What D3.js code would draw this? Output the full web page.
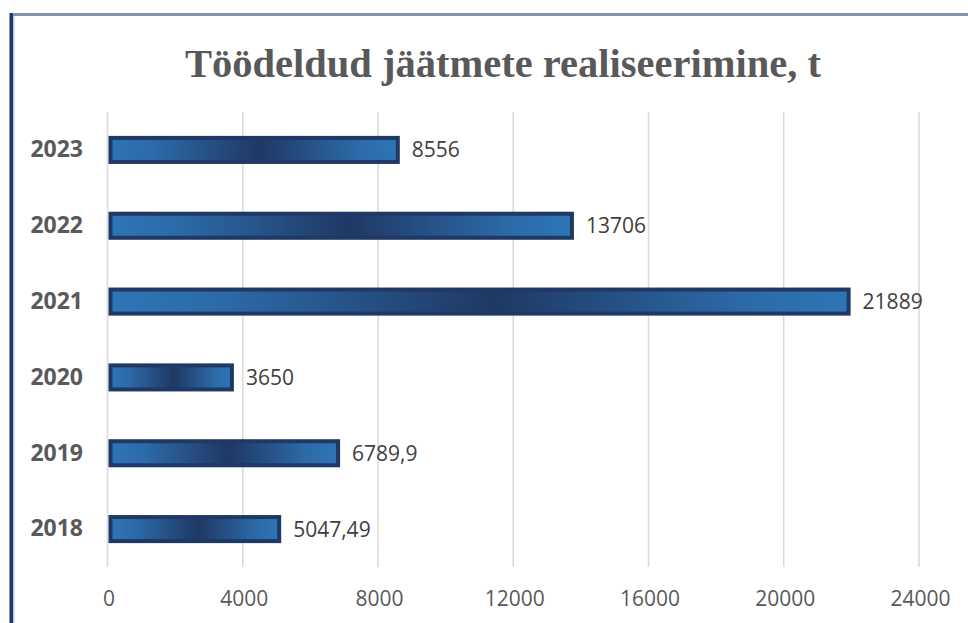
<!DOCTYPE html>
<html><head><meta charset="utf-8">
<script src="https://cdn.jsdelivr.net/npm/d3@7"></script>
<style>html,body{margin:0;padding:0;background:#fff;overflow:hidden}</style>
</head><body><svg id="c" width="968" height="623"></svg>
<script>
const categories = ["2023","2022","2021","2020","2019","2018"];
const values = [8556, 13706, 21889, 3650, 6789.9, 5047.49];
const tickValues = [0, 4000, 8000, 12000, 16000, 20000, 24000];
const title = "Töödeldud jäätmete realiseerimine, t";

const svg = d3.select("#c");
// frame
svg.append("rect").attr("x",13).attr("y",13).attr("width",955).attr("height",3).attr("fill","#8497b0");
svg.append("rect").attr("x",9).attr("y",13).attr("width",1).attr("height",610).attr("fill","#8497b0");
svg.append("rect").attr("x",10).attr("y",13).attr("width",3).attr("height",610).attr("fill","#1f3864");
svg.append("rect").attr("x",13).attr("y",16).attr("width",1.5).attr("height",607).attr("fill","#b4c7e7");

const defs = svg.append("defs");
const grad = defs.append("linearGradient").attr("id","g").attr("x1","0").attr("x2","1").attr("y1","0").attr("y2","0");
[[0,"#2e75b6"],[0.15,"#2c6aa8"],[0.52,"#203864"],[0.86,"#2c6aa8"],[1,"#2e75b6"]].forEach(s=>
  grad.append("stop").attr("offset",s[0]).attr("stop-color",s[1]));

const x = d3.scaleLinear().domain([0,24000]).range([108.5,920]);
const y = d3.scaleBand().domain(categories).range([112,567]).paddingInner(0.63).paddingOuter(0.315);

// title
const t = svg.append("text").attr("x",503).attr("y",77).attr("text-anchor","middle")
  .attr("font-family","'Liberation Serif','Times New Roman',serif").attr("font-weight","bold")
  .attr("font-size",40).attr("fill","#595959").text(title);
const w = t.node().getComputedTextLength();
t.attr("font-size", 40*636/w);

// grid
svg.append("g").selectAll("line").data(tickValues).join("line")
  .attr("x1",d=>x(d)-1).attr("x2",d=>x(d)-1).attr("y1",112).attr("y2",567)
  .attr("stroke","#d9d9d9").attr("stroke-width",1.5);

// x axis
const xa = svg.append("g").attr("transform","translate(0,591)")
  .call(d3.axisBottom(x).tickValues(tickValues).tickSize(0).tickPadding(0).tickFormat(d3.format("d")));
xa.select(".domain").remove();
xa.selectAll("text").attr("font-family","'Open Sans',sans-serif").attr("font-size",21).attr("fill","#595959");

// y axis labels
const ya = svg.append("g").attr("transform","translate(83,0)")
  .call(d3.axisLeft(y).tickSize(0).tickPadding(0));
ya.select(".domain").remove();
ya.selectAll("text").attr("font-family","'Open Sans',sans-serif").attr("font-weight","bold")
  .attr("font-size",23).attr("fill","#595959");

const data = categories.map((c,i)=>({c, v: values[i]}));
svg.append("g").selectAll("rect").data(data).join("rect")
  .attr("x",x(0)+2).attr("y",d=>y(d.c)+2)
  .attr("width",d=>x(d.v)-x(0)-2).attr("height",y.bandwidth()-4)
  .attr("fill","url(#g)").attr("stroke","#1f3864").attr("stroke-width",4);

svg.append("g").selectAll("text").data(data).join("text")
  .attr("x",d=>x(d.v)+14).attr("y",d=>y(d.c)+y.bandwidth()/2).attr("dy","0.36em")
  .attr("font-family","'Open Sans',sans-serif").attr("font-size",21).attr("fill","#404040")
  .text(d=>String(d.v).replace(".",","));
</script></body></html>
